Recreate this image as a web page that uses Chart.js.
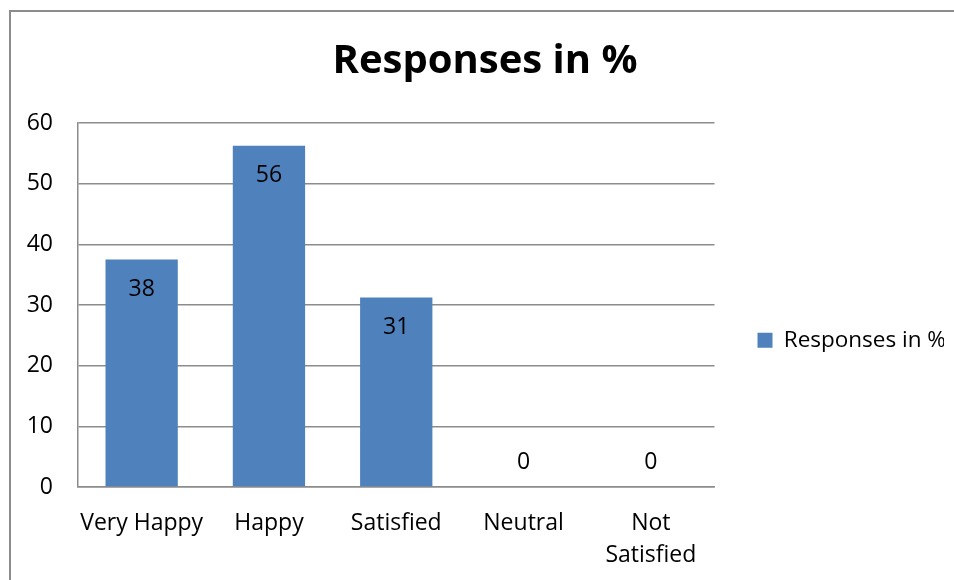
<!DOCTYPE html>
<html lang="en">
<head>
<meta charset="UTF-8">
<title>Responses in %</title>
<script src="https://cdn.jsdelivr.net/npm/chart.js"></script>
<style>
  html, body { margin: 0; padding: 0; background: #ffffff; overflow: hidden; }
  .frame { position: absolute; left: 9px; top: 10px; width: 1000px; height: 1000px; border: 2px solid #8c8c8c; }
  .wrap { position: absolute; left: 0; top: 0; width: 954px; height: 580px; }
</style>
</head>
<body>
<div class="frame"></div>
<div class="wrap"><canvas id="responsesChart"></canvas></div>
<script>
// DATA
const categories = ['Very Happy', 'Happy', 'Satisfied', 'Neutral', ['Not', 'Satisfied']];
const responses = [37.5, 56.25, 31.25, 0, 0];
const seriesName = 'Responses in %';
const yMin = 0, yMax = 60, yStep = 10;

const BAR_BLUE = '#4f81bd';
const AXIS_GREY = '#8c8c8c';
const FONT = '"Open Sans", sans-serif';

Chart.defaults.font.family = FONT;
Chart.defaults.color = '#000000';

// value labels just inside the top of each bar (Excel "inside end")
const barLabels = {
    id: 'barLabels',
    afterDatasetsDraw(chart) {
        const ctx = chart.ctx;
        const meta = chart.getDatasetMeta(0);
        ctx.save();
        ctx.font = '23px ' + FONT;
        ctx.fillStyle = '#000000';
        ctx.textAlign = 'center';
        ctx.textBaseline = 'middle';
        meta.data.forEach((bar, i) => {
            const v = responses[i];
            const y = v > 0 ? bar.y + 30 : bar.base - 25;
            ctx.fillText(String(Math.round(v)), bar.x, y);
        });
        ctx.restore();
    }
};

new Chart(document.getElementById('responsesChart'), {
    type: 'bar',
    data: {
        labels: categories,
        datasets: [{
            label: seriesName,
            data: responses,
            backgroundColor: BAR_BLUE,
            borderWidth: 0,
            barPercentage: 0.568,
            categoryPercentage: 1
        }]
    },
    options: {
        responsive: true,
        maintainAspectRatio: false,
        animation: false,
        layout: { padding: { left: 26, right: 10, top: 10, bottom: 11 } },
        scales: {
            x: {
                grid: { display: false, drawTicks: false },
                border: { display: true, color: AXIS_GREY, width: 1.5 },
                ticks: { padding: 20, font: { size: 23, lineHeight: 1.4 }, maxRotation: 0, autoSkip: false },
                afterFit: s => { s.height = 82; }
            },
            y: {
                min: yMin,
                max: yMax,
                grid: { color: AXIS_GREY, lineWidth: 1.5, drawTicks: false },
                border: { display: true, color: AXIS_GREY, width: 1.5 },
                ticks: { stepSize: yStep, padding: 25, font: { size: 23 } },
                afterFit: s => { s.width = 52; }
            }
        },
        plugins: {
            title: {
                display: true,
                text: 'Responses in %',
                font: { size: 40, weight: 'bold' },
                color: '#000000',
                padding: { top: 28, bottom: 37 }
            },
            legend: {
                position: 'right',
                fullSize: false,
                title: { display: true, text: ' ', font: { size: 2 }, padding: { top: 34, bottom: 34 } },
                labels: {
                    boxWidth: 15, boxHeight: 15, padding: 43, font: { size: 22.5 }, color: '#000000',
                    // trailing space keeps the legend box wide enough that the text is not clipped
                    generateLabels: chart => Chart.defaults.plugins.legend.labels.generateLabels(chart)
                        .map(item => ({ ...item, text: item.text + '  ' }))
                }
            },
            tooltip: { enabled: false }
        }
    },
    plugins: [barLabels]
});
</script>
</body>
</html>
